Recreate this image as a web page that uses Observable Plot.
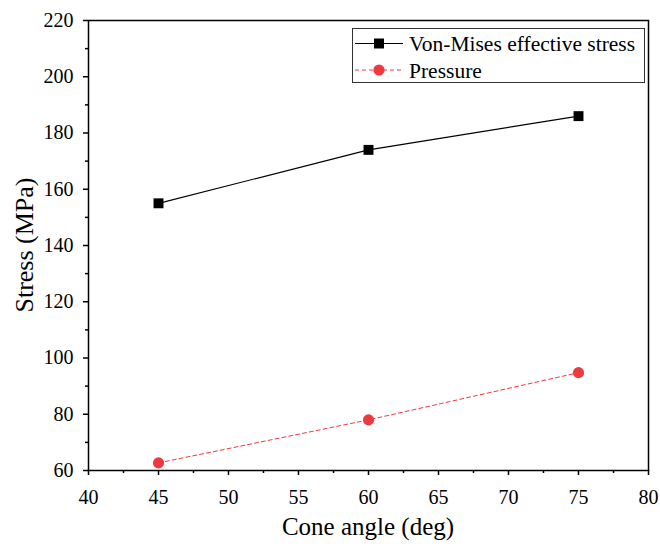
<!DOCTYPE html>
<html>
<head>
<meta charset="utf-8">
<script src="https://cdn.jsdelivr.net/npm/d3@7"></script>
<script src="https://cdn.jsdelivr.net/npm/@observablehq/plot@0.6"></script>
<style>
  html, body { margin: 0; padding: 0; background: #fff; }
  #chart { width: 660px; height: 548px; }
  #chart svg, #chart svg text { font-family: 'Liberation Serif', 'Times New Roman', serif !important; }
</style>
</head>
<body>
<div id="chart"></div>
<script>
const coneAngles = [45, 60, 75];
const vonMises = [155, 174, 186];
const pressure = [62.7, 78, 94.8];
const xTicks = [40, 45, 50, 55, 60, 65, 70, 75, 80];
const xMinorTicks = [42.5, 47.5, 52.5, 57.5, 62.5, 67.5, 72.5, 77.5];
const yTicks = [60, 80, 100, 120, 140, 160, 180, 200, 220];
const yMinorTicks = [70, 90, 110, 130, 150, 170, 190, 210];
const seriesNames = ["Von-Mises effective stress", "Pressure"];
const xTitle = "Cone angle (deg)";
const yTitle = "Stress (MPa)";

const red = "#ee3a3f";
const font = "'Liberation Serif', 'Times New Roman', serif";

const vmData = coneAngles.map((x, i) => ({x, y: vonMises[i]}));
const prData = coneAngles.map((x, i) => ({x, y: pressure[i]}));

const W = 660, H = 548;
const mL = 88, mR = 12, mT = 20, mB = 78;

const plot = Plot.plot({
  width: W,
  height: H,
  marginLeft: mL,
  marginRight: mR,
  marginTop: mT,
  marginBottom: mB,
  style: {fontFamily: font, fontSize: "20px", color: "black", background: "white", overflow: "visible"},
  x: {domain: [40, 80]},
  y: {domain: [60, 220]},
  marks: [
    Plot.axisX({ticks: xTicks, tickSize: 5, tickPadding: 14, strokeWidth: 1.5, label: null, fontSize: 20, fontFamily: font, fontVariant: "normal"}),
    Plot.axisX({ticks: xMinorTicks, tickSize: 3, strokeWidth: 1.5, text: null, label: null}),
    Plot.axisY({ticks: yTicks, tickSize: 5, tickPadding: 10, strokeWidth: 1.5, label: null, fontSize: 20, fontFamily: font, fontVariant: "normal"}),
    Plot.axisY({ticks: yMinorTicks, tickSize: 3, strokeWidth: 1.5, text: null, label: null}),
    Plot.frame({stroke: "black", strokeWidth: 1.5}),
    Plot.line(prData, {x: "x", y: "y", stroke: red, strokeWidth: 1, strokeDasharray: "4,3"}),
    Plot.line(vmData, {x: "x", y: "y", stroke: "black", strokeWidth: 1.2}),
    Plot.dot(prData, {x: "x", y: "y", r: 5.6, fill: red, stroke: "none"}),
    Plot.dot(vmData, {x: "x", y: "y", symbol: "square", r: 5.6, fill: "black", stroke: "none"})
  ]
});

document.getElementById("chart").appendChild(plot);

const svg = d3.select(plot).attr("font-family", font);
// Axis titles
svg.append("text")
  .attr("x", mL + (W - mL - mR) / 2)
  .attr("y", 535)
  .attr("text-anchor", "middle")
  .attr("font-family", font)
  .attr("font-size", 25)
  .attr("fill", "black")
  .text(xTitle);
svg.append("text")
  .attr("transform", `translate(33,${mT + (H - mT - mB) / 2}) rotate(-90)`)
  .attr("text-anchor", "middle")
  .attr("font-family", font)
  .attr("font-size", 26)
  .attr("fill", "black")
  .text(yTitle);

// Legend
const lg = svg.append("g").attr("font-family", font).attr("font-size", 21.5).attr("text-anchor", "start");
lg.append("rect")
  .attr("x", 352.5).attr("y", 28.5).attr("width", 292).attr("height", 54)
  .attr("fill", "white").attr("stroke", "#333").attr("stroke-width", 1);
const rows = [
  {name: seriesNames[0], y: 43.5, color: "black", dash: null, shape: "square"},
  {name: seriesNames[1], y: 70, color: red, dash: "4,3", shape: "circle"}
];
rows.forEach(r => {
  lg.append("line").attr("x1", 355).attr("x2", 403).attr("y1", r.y).attr("y2", r.y)
    .attr("stroke", r.color).attr("stroke-width", r.dash ? 1 : 1.2)
    .attr("stroke-dasharray", r.dash);
  if (r.shape === "square") {
    lg.append("rect").attr("x", 379 - 5).attr("y", r.y - 5).attr("width", 10).attr("height", 10).attr("fill", r.color);
  } else {
    lg.append("circle").attr("cx", 379).attr("cy", r.y).attr("r", 5.6).attr("fill", r.color);
  }
  lg.append("text").attr("x", 409).attr("y", r.y).attr("dy", "0.35em").attr("text-anchor", "start").attr("fill", "black").text(r.name);
});
</script>
</body>
</html>
